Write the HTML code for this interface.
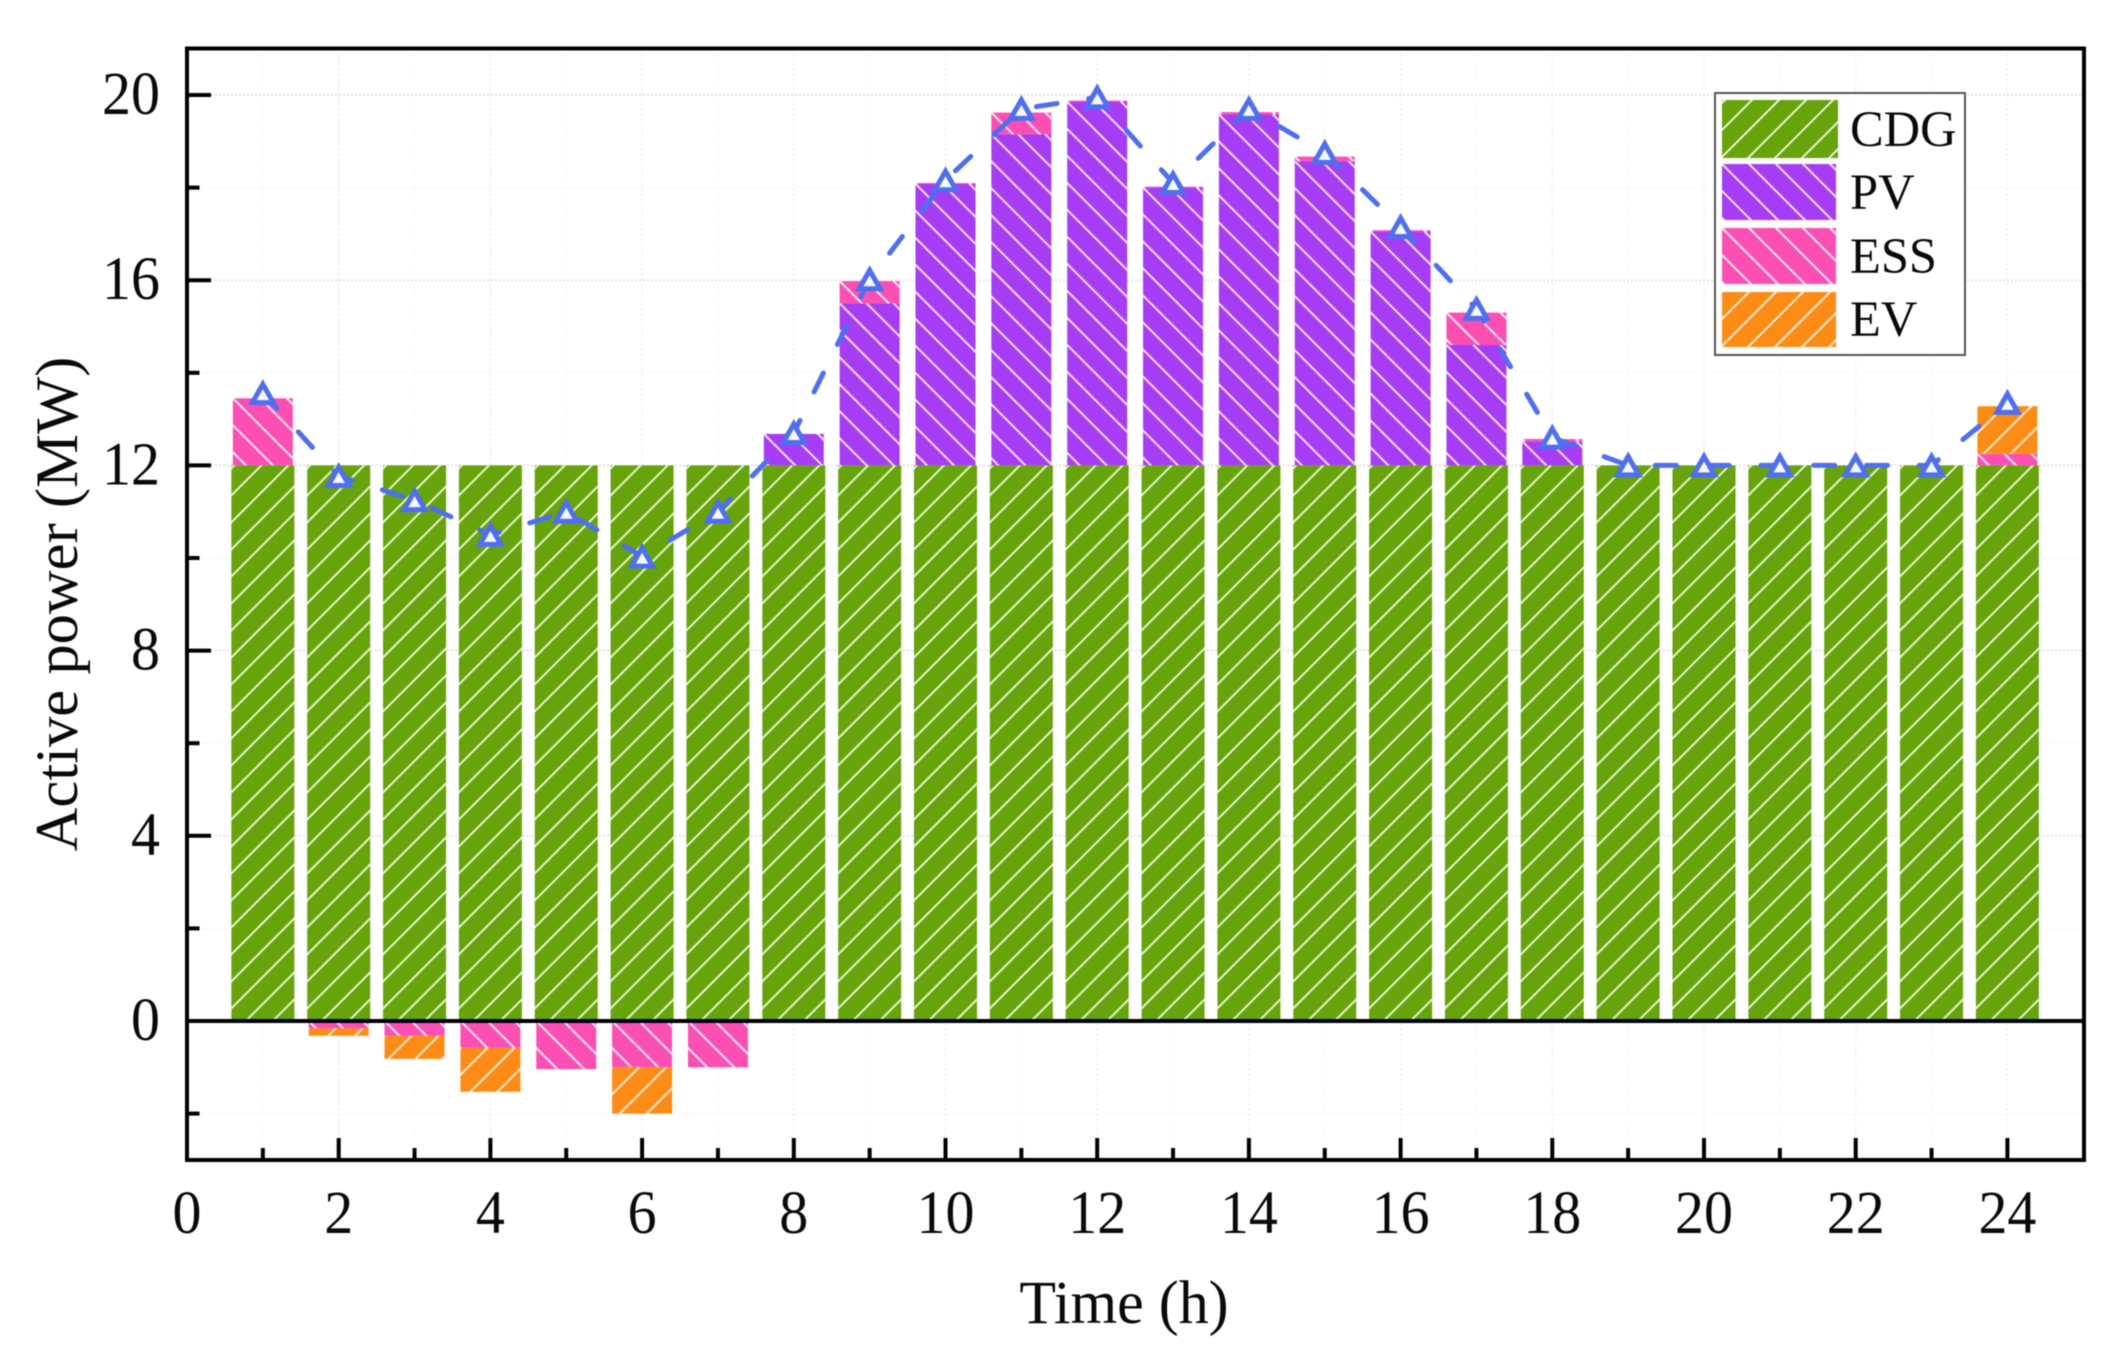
<!DOCTYPE html>
<html lang="en">
<head>
<meta charset="utf-8">
<title>Active power by source</title>
<style>
html,body{margin:0;padding:0;background:#fff;width:2113px;height:1355px;overflow:hidden}
svg{display:block;filter:blur(0.5px)}
text{font-family:"Liberation Serif","Times New Roman",serif;fill:#0a0a0a}
</style>
</head>
<body>
<svg id="chart" xmlns="http://www.w3.org/2000/svg" width="2113" height="1355" viewBox="0 0 2113 1355">
  <defs>
    <pattern id="hatch-cdg" patternUnits="userSpaceOnUse" width="27" height="27"><rect width="27" height="27" fill="#67a30b"/><path d="M-2 5L5 -2M-2 32L32 -2M-2 59L59 -2" stroke="#e8f5cc" stroke-width="2"/></pattern>
    <pattern id="hatch-pv" patternUnits="userSpaceOnUse" width="27" height="27"><rect width="27" height="27" fill="#a63df5"/><path d="M-2 -2L29 29M-2 25L2 29M25 -2L29 2" stroke="#f5ddf9" stroke-width="2"/></pattern>
    <pattern id="hatch-ess" patternUnits="userSpaceOnUse" width="27" height="27"><rect width="27" height="27" fill="#fb4fb3"/><path d="M-2 -2L29 29M-2 25L2 29M25 -2L29 2" stroke="#ffe4f2" stroke-width="2"/></pattern>
    <pattern id="hatch-ev" patternUnits="userSpaceOnUse" width="27" height="27"><rect width="27" height="27" fill="#fd8c17"/><path d="M-2 2L2 -2M-2 29L29 -2M-2 56L56 -2" stroke="#ffe9ca" stroke-width="2"/></pattern>
  </defs>
  <g id="grid"></g>
  <g id="bars"></g>
  <g id="axes"></g>
  <g id="series"></g>

  <g>
    <rect x="1715" y="93" width="250" height="262" fill="#fff" stroke="#555" stroke-width="2"/>
    <g>
      <rect transform="translate(1722,100)" width="116" height="58" fill="url(#hatch-cdg)"/>
      <text x="1850" y="146" font-size="50.5">CDG</text>
    </g>
    <g>
      <rect transform="translate(1722,164)" width="114" height="56" fill="url(#hatch-pv)"/>
      <text x="1850" y="209" font-size="50.5">PV</text>
    </g>
    <g>
      <rect transform="translate(1722,228)" width="114" height="56" fill="url(#hatch-ess)"/>
      <text x="1850" y="273" font-size="50.5">ESS</text>
    </g>
    <g>
      <rect transform="translate(1722,292)" width="114" height="55" fill="url(#hatch-ev)"/>
      <text x="1850" y="336" font-size="50.5">EV</text>
    </g>
  </g>

  <text transform="translate(1124,1323) scale(0.975,1)" font-size="61.5" text-anchor="middle">Time (h)</text>
  <text transform="translate(77,604) rotate(-90)" font-size="60.6" text-anchor="middle">Active power (MW)</text>
</svg>
<script>
const hours = [1,2,3,4,5,6,7,8,9,10,11,12,13,14,15,16,17,18,19,20,21,22,23,24];
const cdg   = [12,12,12,12,12,12,12,12,12,12,12,12,12,12,12,12,12,12,12,12,12,12,12,12];
const pv    = [0,0,0,0,0,0,0,0.68,3.5,6.08,7.15,7.85,6.0,7.58,6.57,5.05,2.6,0.52,0,0,0,0,0,0];
const essUp = [1.45,0,0,0,0,0,0,0,0.48,0.02,0.47,0.03,0.02,0.05,0.1,0.03,0.7,0.05,0,0,0,0,0,0.25];
const evUp  = [0,0,0,0,0,0,0,0,0,0,0,0,0,0,0,0,0,0,0,0,0,0,0,1.03];
const essDown = [0,0.16,0.32,0.58,1.04,1.0,1.0,0,0,0,0,0,0,0,0,0,0,0,0,0,0,0,0,0];
const evDown  = [0,0.16,0.5,0.95,0,1.0,0,0,0,0,0,0,0,0,0,0,0,0,0,0,0,0,0,0];
const totalPower = [13.56,11.77,11.25,10.5,11,10.03,11,12.7,16.02,18.16,19.7,19.95,18.1,19.7,18.75,17.15,15.38,12.6,12,12,12,12,12,13.35];
const xTickLabels = [0,2,4,6,8,10,12,14,16,18,20,22,24];
const xMinorTicks = [1,3,5,7,9,11,13,15,17,19,21,23];
const yTickLabels = [0,4,8,12,16,20];
const yMinorTicks = [-2,2,6,10,14,18];

const NS = 'http://www.w3.org/2000/svg';
const xScale = v => 187 + 75.85 * v;
const yScale = v => 1021 - 46.3 * v;
const unitY = 46.3;
const plotLeft = 187, plotRight = 2084, plotTop = 48.5, plotBottom = 1160;

function make(tag, attrs, parent) {
  const el = document.createElementNS(NS, tag);
  for (const k in attrs) el.setAttribute(k, attrs[k]);
  parent.appendChild(el);
  return el;
}

const gridG = document.getElementById('grid');
const barsG = document.getElementById('bars');
const axesG = document.getElementById('axes');
const seriesG = document.getElementById('series');

/* gridlines */
xTickLabels.concat(xMinorTicks).forEach(v => {
  const major = xTickLabels.includes(v);
  const l = make('line', {x1:xScale(v), x2:xScale(v), y1:plotTop, y2:plotBottom, stroke: major ? '#ededed' : '#f7f7f7', 'stroke-width':1.5, 'stroke-dasharray':'2 3'}, gridG);
  
  
});
yTickLabels.concat(yMinorTicks).forEach(v => {
  const major = yTickLabels.includes(v);
  const l = make('line', {x1:plotLeft, x2:plotRight, y1:yScale(v), y2:yScale(v), stroke: major ? '#e2e2e2' : '#f6f6f6', 'stroke-width':major ? 2 : 1.5, 'stroke-dasharray':'2 2'}, gridG);
  
  
});

/* bars */
function drawSegment(hour, fromV, toV, hatch, width, name) {
  if (Math.abs(toV - fromV) < 1e-6) return;
  const top = yScale(Math.max(fromV, toV));
  const h = Math.abs(toV - fromV) * unitY;
  const x = xScale(hour) - width / 2;
  const r = make('rect', {transform:'translate(' + x + ',' + top + ')', x:0, y:0, width:width, height:h, fill:'url(#' + hatch + ')'}, barsG);
  
  
}
hours.forEach((hour, i) => {
  drawSegment(hour, 0, cdg[i], 'hatch-cdg', 63, 'cdg');
  let up = cdg[i];
  drawSegment(hour, up, up + pv[i], 'hatch-pv', 60, 'pv');
  up += pv[i];
  drawSegment(hour, up, up + essUp[i], 'hatch-ess', 60, 'ess');
  up += essUp[i];
  drawSegment(hour, up, up + evUp[i], 'hatch-ev', 60, 'ev');
  let down = 0;
  drawSegment(hour, down, down - essDown[i], 'hatch-ess', 60, 'ess-discharge');
  down -= essDown[i];
  drawSegment(hour, down, down - evDown[i], 'hatch-ev', 60, 'ev-discharge');
});

/* axes */
const zero = make('line', {x1:plotLeft, x2:plotRight, y1:yScale(0), y2:yScale(0), stroke:'#000', 'stroke-width':4}, axesG);


const frame = make('rect', {x:plotLeft, y:plotTop, width:plotRight - plotLeft, height:plotBottom - plotTop, fill:'none', stroke:'#000', 'stroke-width':4}, axesG);



function label(txt, x, y, anchor, name) {
  const t = make('text', {transform:'translate(' + x + ',' + y + ') scale(0.95,1)', 'font-size':61, 'text-anchor':anchor}, axesG);
  t.textContent = txt;
  
  
}
xTickLabels.forEach(v => {
  const tick = make('line', {x1:xScale(v), x2:xScale(v), y1:plotBottom, y2:plotBottom - 22, stroke:'#000', 'stroke-width':4}, axesG);
  
  
  label(String(v), xScale(v), 1233, 'middle', 'x-tick-label');
});
xMinorTicks.forEach(v => {
  const tick = make('line', {x1:xScale(v), x2:xScale(v), y1:plotBottom, y2:plotBottom - 12, stroke:'#000', 'stroke-width':4}, axesG);
  
  
});
yTickLabels.forEach(v => {
  const tick = make('line', {x1:plotLeft, x2:plotLeft + 24, y1:yScale(v), y2:yScale(v), stroke:'#000', 'stroke-width':4}, axesG);
  
  
  label(String(v), 160, yScale(v) + 19, 'end', 'y-tick-label');
});
yMinorTicks.forEach(v => {
  const tick = make('line', {x1:plotLeft, x2:plotLeft + 12.5, y1:yScale(v), y2:yScale(v), stroke:'#000', 'stroke-width':4}, axesG);
  
  
});

/* total power line and markers */
const pts = hours.map((h, i) => xScale(h) + ',' + yScale(totalPower[i])).join(' ');
const poly = make('polyline', {points:pts, fill:'none', stroke:'#4f6fee', 'stroke-width':5, 'stroke-dasharray':'21 31.8', 'stroke-dashoffset':0.3, 'stroke-linecap':'round', 'stroke-linejoin':'round'}, seriesG);


hours.forEach((h, i) => {
  const cx = xScale(h), cy = yScale(totalPower[i]);
  const d = 'M' + cx + ' ' + (cy - 9) + 'L' + (cx + 10.5) + ' ' + (cy + 9.5) + 'L' + (cx - 10.5) + ' ' + (cy + 9.5) + 'Z';
  const m = make('path', {d:d, fill:'#f6f8ff', stroke:'#4f6fee', 'stroke-width':5, 'stroke-linejoin':'miter'}, seriesG);
  
  
});
</script>
</body>
</html>
